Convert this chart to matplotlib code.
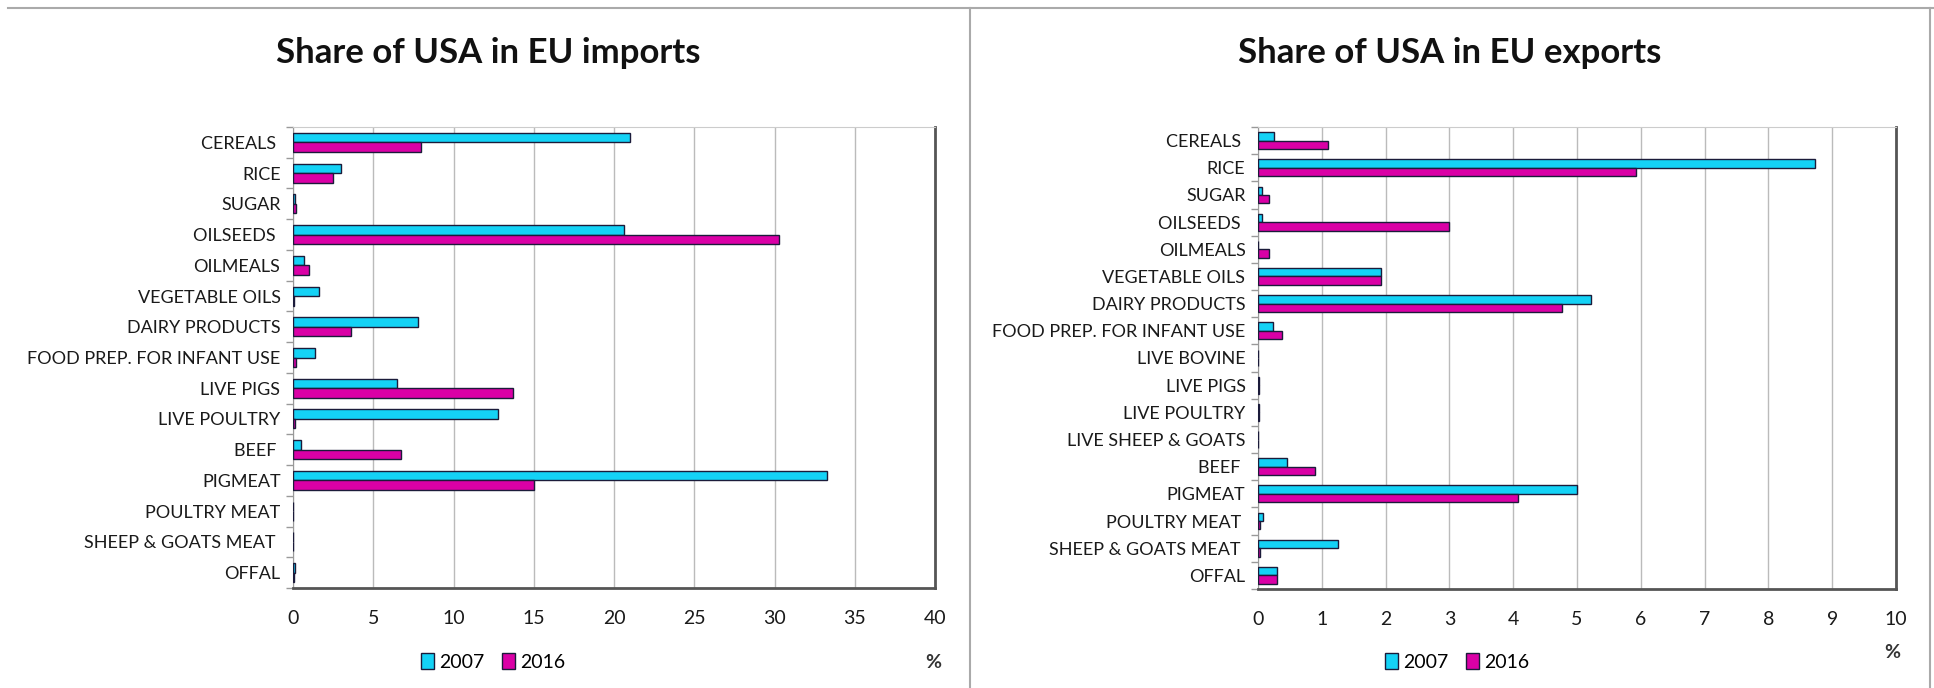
import numpy as np
import matplotlib.pyplot as plt
from matplotlib.lines import Line2D
from matplotlib.patches import Patch

plt.rcParams['font.family'] = ['Lato', 'DejaVu Sans']

# EU imports: share of USA (%)
imp_products = ['CEREALS ', 'RICE', 'SUGAR', 'OILSEEDS ', 'OILMEALS', 'VEGETABLE OILS',
                'DAIRY PRODUCTS', 'FOOD PREP. FOR INFANT USE', 'LIVE PIGS', 'LIVE POULTRY',
                'BEEF ', 'PIGMEAT', 'POULTRY MEAT', 'SHEEP & GOATS MEAT ', 'OFFAL']
imp_2007 = [21.0, 3.0, 0.15, 20.6, 0.7, 1.6, 7.8, 1.4, 6.5, 12.8, 0.5, 33.3, 0.0, 0.0, 0.15]
imp_2016 = [8.0, 2.5, 0.2, 30.3, 1.0, 0.05, 3.6, 0.2, 13.7, 0.15, 6.7, 15.0, 0.0, 0.0, 0.05]

# EU exports: share of USA (%)
exp_products = ['CEREALS ', 'RICE', 'SUGAR', 'OILSEEDS ', 'OILMEALS', 'VEGETABLE OILS',
                'DAIRY PRODUCTS', 'FOOD PREP. FOR INFANT USE', 'LIVE BOVINE', 'LIVE PIGS',
                'LIVE POULTRY', 'LIVE SHEEP & GOATS', 'BEEF ', 'PIGMEAT', 'POULTRY MEAT ',
                'SHEEP & GOATS MEAT ', 'OFFAL']
exp_2007 = [0.25, 8.73, 0.07, 0.07, 0.0, 1.93, 5.22, 0.23, 0.0, 0.01, 0.02, 0.0,
            0.45, 5.0, 0.08, 1.25, 0.3]
exp_2016 = [1.1, 5.93, 0.17, 3.0, 0.17, 1.93, 4.76, 0.37, 0.0, 0.01, 0.02, 0.0,
            0.9, 4.08, 0.03, 0.03, 0.3]

c2007 = '#14D2F6'
c2016 = '#DA00A6'
edge = '#1b1b3a'

fig = plt.figure(figsize=(19.34, 6.88), dpi=100)


def panel(rect, title, title_x, cats, v07, v16, xmax, step, legend_x, pct_xy):
    ax = fig.add_axes(rect)
    y = np.arange(len(cats))
    h = 0.31
    ax.barh(y - h / 2, v07, height=h, color=c2007, edgecolor=edge, linewidth=1, zorder=3)
    ax.barh(y + h / 2, v16, height=h, color=c2016, edgecolor=edge, linewidth=1, zorder=3)
    ax.set_ylim(len(cats) - 0.5, -0.5)
    ax.set_xlim(0, xmax)
    ax.set_xticks(np.arange(0, xmax + step / 2, step))
    ax.set_yticks(y)
    ax.set_yticklabels(cats, fontsize=13, color='#1a1a1a')
    ax.set_yticks(np.arange(len(cats) + 1) - 0.5, minor=True)
    ax.tick_params(axis='y', which='major', length=0, pad=9)
    ax.tick_params(axis='y', which='minor', length=5, color='#999999', width=1)
    ax.tick_params(axis='x', length=0, pad=16, labelsize=14, labelcolor='#1a1a1a')
    ax.grid(axis='x', color='#bbbbbb', linewidth=1, zorder=0)
    ax.set_axisbelow(True)
    ax.spines['left'].set_color('#999999')
    ax.spines['top'].set_color('#cccccc')
    ax.spines['right'].set_color('#555555')
    ax.spines['right'].set_linewidth(2)
    ax.spines['bottom'].set_color('#555555')
    ax.spines['bottom'].set_linewidth(2)
    fig.text(title_x, 1 - 53 / 688, title, ha='center', va='center',
             fontsize=25, fontweight='bold', color='#111111')
    handles = [Patch(facecolor=c2007, edgecolor=edge, label='2007'),
               Patch(facecolor=c2016, edgecolor=edge, label='2016')]
    fig.legend(handles=handles, loc='center', ncol=2, frameon=False, fontsize=14,
               bbox_to_anchor=(legend_x, 1 - 662 / 688), handlelength=0.7,
               handleheight=0.9, handletextpad=0.25, columnspacing=0.9)
    fig.text(pct_xy[0] / 1934, 1 - pct_xy[1] / 688, '%', ha='center', va='center',
             fontsize=14, fontweight='bold', color='#333333')
    return ax


panel([293 / 1934, 1 - 588 / 688, (935 - 293) / 1934, (588 - 127) / 688],
      'Share of USA in EU imports', 488 / 1934, imp_products, imp_2007, imp_2016,
      40, 5, 493 / 1934, (933, 662))
panel([1258 / 1934, 1 - 589 / 688, (1896 - 1258) / 1934, (589 - 127) / 688],
      'Share of USA in EU exports', 1450 / 1934, exp_products, exp_2007, exp_2016,
      10, 1, 1457 / 1934, (1892, 652))

# panel frames
frame = dict(transform=fig.transFigure, color='#aaaaaa', linewidth=1.5)
fig.add_artist(Line2D([8 / 1934, 1], [1 - 8 / 688] * 2, **frame))
fig.add_artist(Line2D([970 / 1934] * 2, [0, 1 - 8 / 688], **frame))
fig.add_artist(Line2D([1930 / 1934] * 2, [0, 1 - 8 / 688], **frame))

fig.savefig('out.png', dpi=100)
